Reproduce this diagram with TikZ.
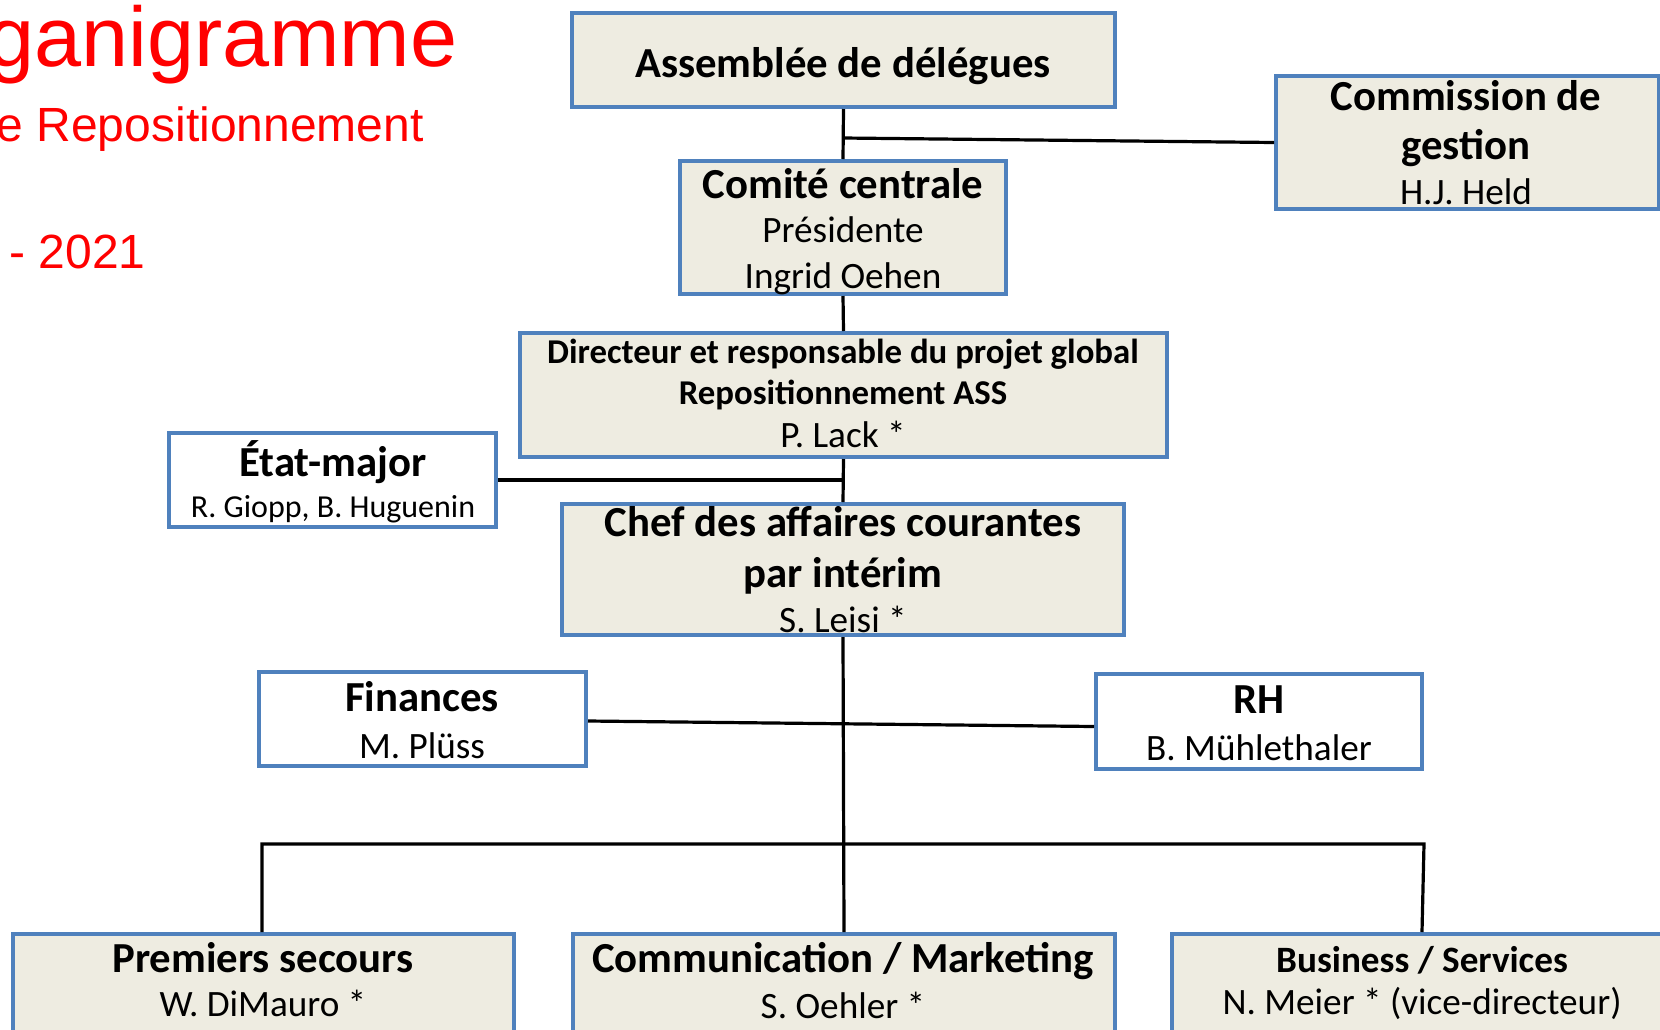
\documentclass[tikz,border=0pt]{standalone}
\usepackage{fontspec}
\setmainfont{Carlito}
\newfontfamily\arialf{Liberation Sans}
\definecolor{boxblue}{HTML}{4F81BD}
\definecolor{boxfill}{HTML}{EEECE1}
\definecolor{titlered}{HTML}{FF0000}
\begin{document}
\begin{tikzpicture}[x=0.5pt,y=-0.5pt,
  box/.style={draw=boxblue, line width=2pt, fill=boxfill, inner sep=0pt, rectangle},
  wbox/.style={box, fill=white},
  conn/.style={draw=black, line width=1.6pt},
  tb/.style={font=\fontsize{21.4}{25}\selectfont\bfseries, anchor=base, inner sep=0pt},
  tbs/.style={font=\fontsize{17.4}{21}\selectfont\bfseries, anchor=base, inner sep=0pt},
  tbm/.style={font=\fontsize{18.6}{22}\selectfont\bfseries, anchor=base, inner sep=0pt},
  tr/.style={font=\fontsize{18.6}{22}\selectfont, anchor=base, inner sep=0pt},
  trs/.style={font=\fontsize{16}{19}\selectfont, anchor=base, inner sep=0pt},
  ttl/.style={text=titlered, inner sep=0pt}
]
\useasboundingbox (0,0) rectangle (1660,1029);
\clip (0,0) rectangle (1660,1029);

% titles
\node[ttl, font=\arialf\fontsize{42.3}{48}\selectfont, anchor=base east] (t1) at (458,66) {ganigramme};
\node[ttl, font=\arialf\fontsize{24}{28}\selectfont, anchor=base east] (t2) at (424,141) {e Repositionnement};
\node[ttl, font=\arialf\fontsize{24}{28}\selectfont, anchor=base west] (t3) at (9,268) {- 2021};

% boxes
\node[box, minimum width=271.5pt, minimum height=47pt] (ad) at (843.5,60) {};
\node[box, minimum width=191.5pt, minimum height=66.5pt] (cg) at (1467.5,142.5) {};
\node[box, minimum width=163pt, minimum height=66.5pt] (cc) at (843,227.5) {};
\node[box, minimum width=323.5pt, minimum height=62pt] (dir) at (843.5,395) {};
\node[wbox, minimum width=163.5pt, minimum height=47pt] (em) at (332.5,480) {};
\node[box, minimum width=281pt, minimum height=65.5pt] (chef) at (843,569.5) {};
\node[wbox, minimum width=163.5pt, minimum height=47pt] (fin) at (422.5,719) {};
\node[wbox, minimum width=163pt, minimum height=47.5pt] (rh) at (1259,721.5) {};
\node[box, minimum width=250.5pt, minimum height=72pt] (ps) at (263.5,1006) {};
\node[box, minimum width=271pt, minimum height=72pt] (cm) at (844,1006) {};
\node[box, minimum width=250pt, minimum height=72pt] (bs) at (1422,1006) {};

% junctions
\coordinate (j1) at (843,138);
\coordinate (j2) at (843,480);
\coordinate (b1) at (262,844);
\coordinate (b2) at (1424,844);

% connectors
\draw[conn] (ad.south) -- (cc.north);
\draw[conn] (j1) -- (cg.west);
\draw[conn] (cc.south) -- (dir.north);
\draw[conn] (dir.south) -- (chef.north);
\draw[conn] (em.east) -- (j2);
\draw[conn] (chef.south) -- (cm.north);
\draw[conn] ([yshift=-1pt]fin.east) -- ([yshift=-2.5pt]rh.west);
\draw[conn] (ps.north -| b1) -- (b1) -- (b2) -- (bs.north);

% texts
\node[tb] (ad1) at (843,77) {Assemblée de délégues};
\node[tb] (cg1) at (1466,110) {Commission de};
\node[tb] (cg2) at (1466,159) {gestion};
\node[tr] (cg3) at (1466,204) {H.J. Held};
\node[tb] (cc1) at (843,198) {Comité centrale};
\node[tr] (cc2) at (843,242) {Présidente};
\node[tr] (cc3) at (843,288) {Ingrid Oehen};
\node[tbs] (dir1) at (843,363) {Directeur et responsable du projet global};
\node[tbs] (dir2) at (843,404) {Repositionnement ASS};
\node[tr] (dir3) at (843,447) {P. Lack *};
\node[tb] (em1) at (333,476) {État-major};
\node[trs] (em2) at (333,517) {R. Giopp, B. Huguenin};
\node[tb] (chef1) at (843,536) {Chef des affaires courantes};
\node[tb] (chef2) at (843,587) {par intérim};
\node[tr] (chef3) at (843,632) {S. Leisi *};
\node[tb] (fin1) at (422,711) {Finances};
\node[tr] (fin2) at (422,758) {M. Plüss};
\node[tb] (rh1) at (1259,713) {RH};
\node[tr] (rh2) at (1259,760) {B. Mühlethaler};
\node[tb] (ps1) at (263,972) {Premiers secours};
\node[tr] (ps2) at (263,1016) {W. DiMauro *};
\node[tb] (cm1) at (843,972) {Communication / Marketing};
\node[tr] (cm2) at (843,1018) {S. Oehler *};
\node[tbm] (bs1) at (1422,972) {Business / Services};
\node[tr] (bs2) at (1422,1014) {N. Meier * (vice-directeur)};
\end{tikzpicture}
\end{document}
